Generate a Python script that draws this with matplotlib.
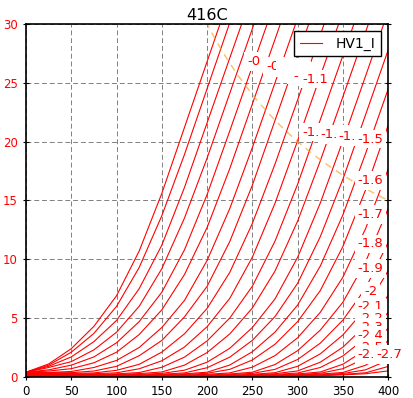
import matplotlib
matplotlib.use("Agg")
import matplotlib.pyplot as plt

# plate voltage sweep (V) and grid steps (V)
PLATE_V = [0, 25, 50, 75, 100, 125, 150, 175, 200, 225, 250, 275, 300, 325, 350, 375, 400]
GRID_V = [-0.0, -0.1, -0.2, -0.3, -0.4, -0.5, -0.6, -0.7, -0.8, -0.9, -1.0, -1.1, -1.2, -1.3,
          -1.4, -1.5, -1.6, -1.7, -1.8, -1.9, -2.0, -2.1, -2.2, -2.3, -2.4, -2.5, -2.6, -2.7]

# plate current (mA), one row per grid step; rows stop once they leave the top
PLATE_MA = [
    [0.4, 1.1, 2.4, 4.3, 6.9, 10.7, 15.6, 21.2, 26.8, 32.4],
    [0.4, 1.0, 2.1, 3.7, 6.0, 9.3, 13.7, 18.9, 24.5, 30.1, 35.6],
    [0.4, 0.9, 1.7, 3.0, 4.8, 7.5, 11.2, 16.1, 21.6, 27.1, 32.6],
    [0.4, 0.8, 1.3, 2.3, 3.8, 6.0, 9.2, 13.5, 18.6, 24.1, 29.6, 35.2],
    [0.4, 0.6, 1.0, 1.7, 2.9, 4.7, 7.2, 10.8, 15.5, 20.9, 26.4, 31.9],
    [0.4, 0.5, 0.7, 1.2, 2.1, 3.6, 5.7, 8.7, 12.7, 17.7, 23.2, 28.7, 34.2],
    [0.4, 0.38, 0.46, 0.8, 1.4, 2.5, 4.2, 6.5, 9.9, 14.3, 19.5, 25.0, 30.5],
    [0.35, 0.35, 0.36, 0.5, 0.9, 1.8, 3.1, 5.1, 7.7, 11.5, 16.3, 21.8, 27.3, 32.8],
    [0.3, 0.31, 0.29, 0.34, 0.56, 1.07, 2.11, 3.66, 5.82, 8.88, 13.05, 18.09, 23.55, 29.06, 34.55],
    [0.28, 0.28, 0.25, 0.27, 0.35, 0.69, 1.37, 2.54, 4.27, 6.67, 10.18, 14.76, 20.08, 25.57, 31.03],
    [0.25, 0.25, 0.2, 0.21, 0.26, 0.37, 0.82, 1.68, 3.06, 5.0, 7.71, 11.54, 16.38, 21.85, 27.32, 32.83],
    [0.23, 0.23, 0.17, 0.17, 0.2, 0.28, 0.42, 1.0, 2.07, 3.65, 5.86, 9.0, 13.25, 18.36, 23.82, 29.31, 34.82],
    [0.21, 0.21, 0.14, 0.13, 0.16, 0.21, 0.3, 0.57, 1.25, 2.43, 4.2, 6.63, 10.17, 14.78, 20.08, 25.57, 31.08],
    [0.19, 0.19, 0.12, 0.11, 0.12, 0.16, 0.23, 0.34, 0.78, 1.68, 3.11, 5.13, 7.96, 11.92, 16.81, 22.28, 27.79],
    [0.17, 0.17, 0.1, 0.09, 0.1, 0.12, 0.18, 0.26, 0.4, 1.01, 2.14, 3.81, 6.11, 9.42, 13.78, 18.98, 24.47],
    [0.16, 0.16, 0.09, 0.07, 0.08, 0.1, 0.14, 0.2, 0.31, 0.64, 1.44, 2.78, 4.7, 7.34, 11.09, 15.89, 21.4],
    [0.14, 0.14, 0.07, 0.06, 0.06, 0.07, 0.1, 0.15, 0.22, 0.34, 0.83, 1.81, 3.33, 5.49, 8.48, 12.6, 17.66],
    [0.13, 0.13, 0.06, 0.04, 0.05, 0.06, 0.08, 0.11, 0.16, 0.25, 0.4, 1.05, 2.23, 3.98, 6.35, 9.79, 14.31],
    [0.12, 0.12, 0.05, 0.04, 0.04, 0.04, 0.06, 0.08, 0.13, 0.19, 0.3, 0.64, 1.48, 2.87, 4.83, 7.54, 11.43],
    [0.11, 0.11, 0.04, 0.03, 0.03, 0.03, 0.04, 0.06, 0.09, 0.14, 0.22, 0.36, 0.9, 1.96, 3.57, 5.81, 9.03],
    [0.1, 0.1, 0.04, 0.03, 0.02, 0.02, 0.03, 0.05, 0.07, 0.11, 0.17, 0.27, 0.51, 1.25, 2.53, 4.38, 6.93],
    [0.09, 0.09, 0.03, 0.02, 0.02, 0.02, 0.03, 0.04, 0.06, 0.08, 0.13, 0.21, 0.33, 0.8, 1.78, 3.32, 5.49],
    [0.08, 0.08, 0.03, 0.02, 0.02, 0.02, 0.02, 0.03, 0.04, 0.07, 0.1, 0.16, 0.25, 0.42, 1.08, 2.31, 4.13],
    [0.07, 0.07, 0.03, 0.02, 0.02, 0.02, 0.02, 0.02, 0.03, 0.05, 0.08, 0.12, 0.19, 0.31, 0.7, 1.6, 3.08],
    [0.06, 0.06, 0.02, 0.02, 0.02, 0.02, 0.02, 0.02, 0.03, 0.04, 0.06, 0.09, 0.15, 0.24, 0.38, 0.99, 2.15],
    [0.05, 0.05, 0.02, 0.02, 0.02, 0.02, 0.02, 0.02, 0.02, 0.03, 0.05, 0.07, 0.11, 0.18, 0.29, 0.6, 1.43],
    [0.04, 0.04, 0.02, 0.01, 0.01, 0.01, 0.01, 0.02, 0.02, 0.03, 0.04, 0.06, 0.09, 0.14, 0.22, 0.35, 0.89],
    [0.04, 0.04, 0.01, 0.01, 0.01, 0.01, 0.01, 0.01, 0.02, 0.02, 0.03, 0.05, 0.07, 0.1, 0.17, 0.27, 0.51],
]

MAX_DISSIPATION_W = 6.0

# where the grid-step labels ended up (left edge V, centre mA); they pile up and hide each other
LABEL_X = [244, 265, 279, 281, 283, 285, 287, 289, 291, 293, 295, 305, 305, 325,
           345, 366, 366, 366, 366, 366, 373.5, 366, 366, 366, 366, 366, 366, 386.5]
LABEL_Y = [26.8, 26.4, 26.3, 26.2, 26.1, 26.0, 25.9, 25.8, 25.7, 25.6, 25.5, 25.3, 20.8, 20.6,
           20.4, 20.2, 16.7, 13.8, 11.3, 9.2, 7.3, 5.95, 4.95, 4.2, 3.5, 2.5, 1.9, 1.9]

fig = plt.figure(figsize=(4.13, 3.98), dpi=100)
ax = fig.add_axes([0.063, 0.053, 0.877, 0.887])

for k, cur in enumerate(PLATE_MA):
    ax.plot(PLATE_V[:len(cur)], cur, color="red", lw=0.8,
            label="HV1_I" if k == 0 else None)

# plate dissipation limit
pv = list(range(150, 401, 5))
ax.plot(pv, [1000.0 * MAX_DISSIPATION_W / v for v in pv], color="#f5a623",
        lw=1.0, alpha=0.7, ls=(0, (5, 4)))

for vg, x, y in zip(GRID_V, LABEL_X, LABEL_Y):
    ax.text(x, y, "%g" % vg, color="red", fontsize=9.5, ha="left", va="center",
            bbox=dict(facecolor="white", edgecolor="none", pad=2))

ax.set_xlim(0, 400)
ax.set_ylim(0, 30)
ax.set_xticks(range(0, 401, 50))
ax.set_yticks(range(0, 31, 5))
ax.grid(True, color="gray", ls=(0, (5, 3)), lw=0.7)
ax.tick_params(axis="both", direction="inout", length=5, labelsize=8.5)
ax.tick_params(axis="y", right=True, labelcolor="red")
for s in ax.spines.values():
    s.set_linewidth(1.2)

ax.set_title("416C", fontsize=11.5, pad=3)
leg = ax.legend(loc="upper right", fontsize=10, fancybox=False, framealpha=1,
                edgecolor="black", handlelength=1.6, handletextpad=1.0,
                borderaxespad=0.5)
leg.get_frame().set_linewidth(1.0)

fig.savefig("out.png", dpi=100, facecolor="white")
